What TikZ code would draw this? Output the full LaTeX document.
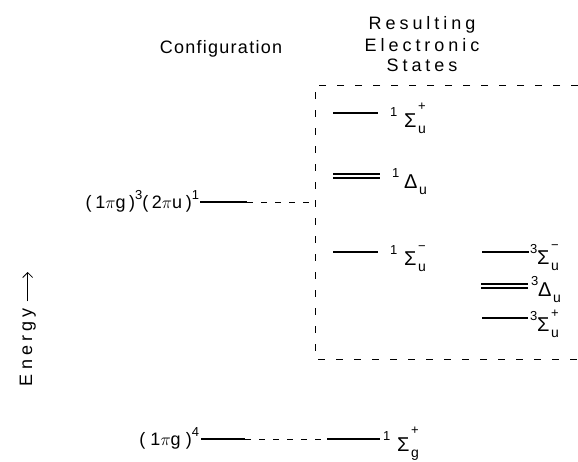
\documentclass[tikz,border=0pt]{standalone}
\usepackage{fontspec}
\setmainfont{Liberation Sans}
\newfontfamily\hdnarrow[LetterSpace=7]{Liberation Sans}
\newfontfamily\hdwide[LetterSpace=22]{Liberation Sans}
\newfontfamily\cfgfont[LetterSpace=20]{Liberation Sans}
\newfontfamily\cfgwide[LetterSpace=28]{Liberation Sans}
\newfontfamily\enfont[LetterSpace=23]{Liberation Sans}
\usetikzlibrary{arrows.meta}
\newcommand{\scrsz}{\fontsize{13}{13}\selectfont}
\newcommand{\supr}[1]{\raisebox{9pt}{\scrsz #1}}
% #1 left sup, #2 symbol, #3 right sup, #4 sub, #5 kern after left sup, #6 raise of right sup
\newcommand{\stlab}[6]{\raisebox{11pt}{\scrsz #1}\kern#5 {\fontsize{20}{20}\selectfont #2}\kern1.5pt\rlap{\raisebox{#6}{\scrsz #3}}\raisebox{-6pt}{\fontsize{14}{14}\selectfont #4}}
\begin{document}
\begin{tikzpicture}[x=1pt,y=-1pt,
  every node/.style={inner sep=0pt, outer sep=0pt, font=\fontsize{18}{21}\selectfont},
  lvl/.style={line width=1.8pt},
  dlvl/.style={line width=1.4pt, double distance=2.6pt},
  conn/.style={line width=0.9pt, dash pattern=on 6pt off 8pt},
  boxd/.style={line width=0.9pt, dash pattern=on 7pt off 11pt},
  stlabel/.style={anchor=base west},
  arr/.style={line width=0.8pt, -{Straight Barb[length=5pt,width=10pt]}}]
\useasboundingbox (0,0) rectangle (578,461);

% headings
\node[anchor=base, font=\fontsize{18}{21}\hdnarrow] (conf) at (221,53) {Configuration};
\node[anchor=base, font=\fontsize{18}{21}\hdwide] (res) at (422,29) {Resulting};
\node[anchor=base, font=\fontsize{18}{21}\hdwide] (elec) at (422,51) {Electronic};
\node[anchor=base, font=\fontsize{18}{21}\hdwide] (sts) at (422,71) {States};

% dashed box (open on the right, beyond the picture)
\coordinate (bTR) at (578,85);
\coordinate (bTL) at (315,85);
\coordinate (bBL) at (315,359);
\coordinate (bBR) at (578,359);
\draw[boxd] (bTR) -- (bTL) -- (bBL) -- (bBR);

% upper configuration
\node[anchor=base east, font=\fontsize{18}{21}\cfgfont] (cfgA) at (199,208) {(1$\pi$g)\supr{3}(2$\pi$u)\supr{1}};
\coordinate (cA1) at (200,202);
\coordinate (cA2) at (247,202);
\coordinate (cA3) at (315,202);
\draw[lvl] (cA1) -- (cA2);
\draw[conn] (cA2) -- (cA3);

% singlet states
\coordinate (s1a) at (333,113); \coordinate (s1b) at (378,113);
\draw[lvl] (s1a) -- (s1b);
\node[stlabel] (s1) at (390,127) {\stlab{1}{Σ}{+}{u}{7pt}{17pt}};

\coordinate (s2a) at (333,176); \coordinate (s2b) at (380,176);
\draw[dlvl] (s2a) -- (s2b);
\node[stlabel] (s2) at (392,188) {\stlab{1}{Δ}{}{u}{5pt}{0pt}};

\coordinate (s3a) at (333,252); \coordinate (s3b) at (378,252);
\draw[lvl] (s3a) -- (s3b);
\node[stlabel] (s3) at (390,265) {\stlab{1}{Σ}{−}{u}{7pt}{15pt}};

% triplet states
\coordinate (t1a) at (482,252); \coordinate (t1b) at (529,252);
\draw[lvl] (t1a) -- (t1b);
\node[stlabel] (t1) at (530,264) {\stlab{3}{Σ}{−}{u}{0pt}{15pt}};

\coordinate (t2a) at (481,286); \coordinate (t2b) at (528,286);
\draw[dlvl] (t2a) -- (t2b);
\node[stlabel] (t2) at (531,296) {\stlab{3}{Δ}{}{u}{0pt}{0pt}};

\coordinate (t3a) at (482,318); \coordinate (t3b) at (528,318);
\draw[lvl] (t3a) -- (t3b);
\node[stlabel] (t3) at (530,331) {\stlab{3}{Σ}{+}{u}{0pt}{14pt}};

% ground configuration
\node[anchor=base east, font=\fontsize{18}{21}\cfgwide] (cfgG) at (199,445) {(1$\pi$g)\supr{4}};
\coordinate (g1) at (201,439);
\coordinate (g2) at (245,439);
\coordinate (g3) at (327,439);
\coordinate (g4) at (380,439);
\draw[lvl] (g1) -- (g2);
\draw[conn] (g2) -- (g3);
\draw[lvl] (g3) -- (g4);
\node[stlabel] (gs) at (383,451) {\stlab{1}{Σ}{+}{g}{7pt}{17pt}};

% energy axis
\node[rotate=90, anchor=base west, outer xsep=7pt, font=\fontsize{18}{21}\enfont] (en) at (32,393) {Energy};
\coordinate (entip) at (25,272);
\draw[arr] (en.east) -- (en.east |- entip);
\end{tikzpicture}
\end{document}
